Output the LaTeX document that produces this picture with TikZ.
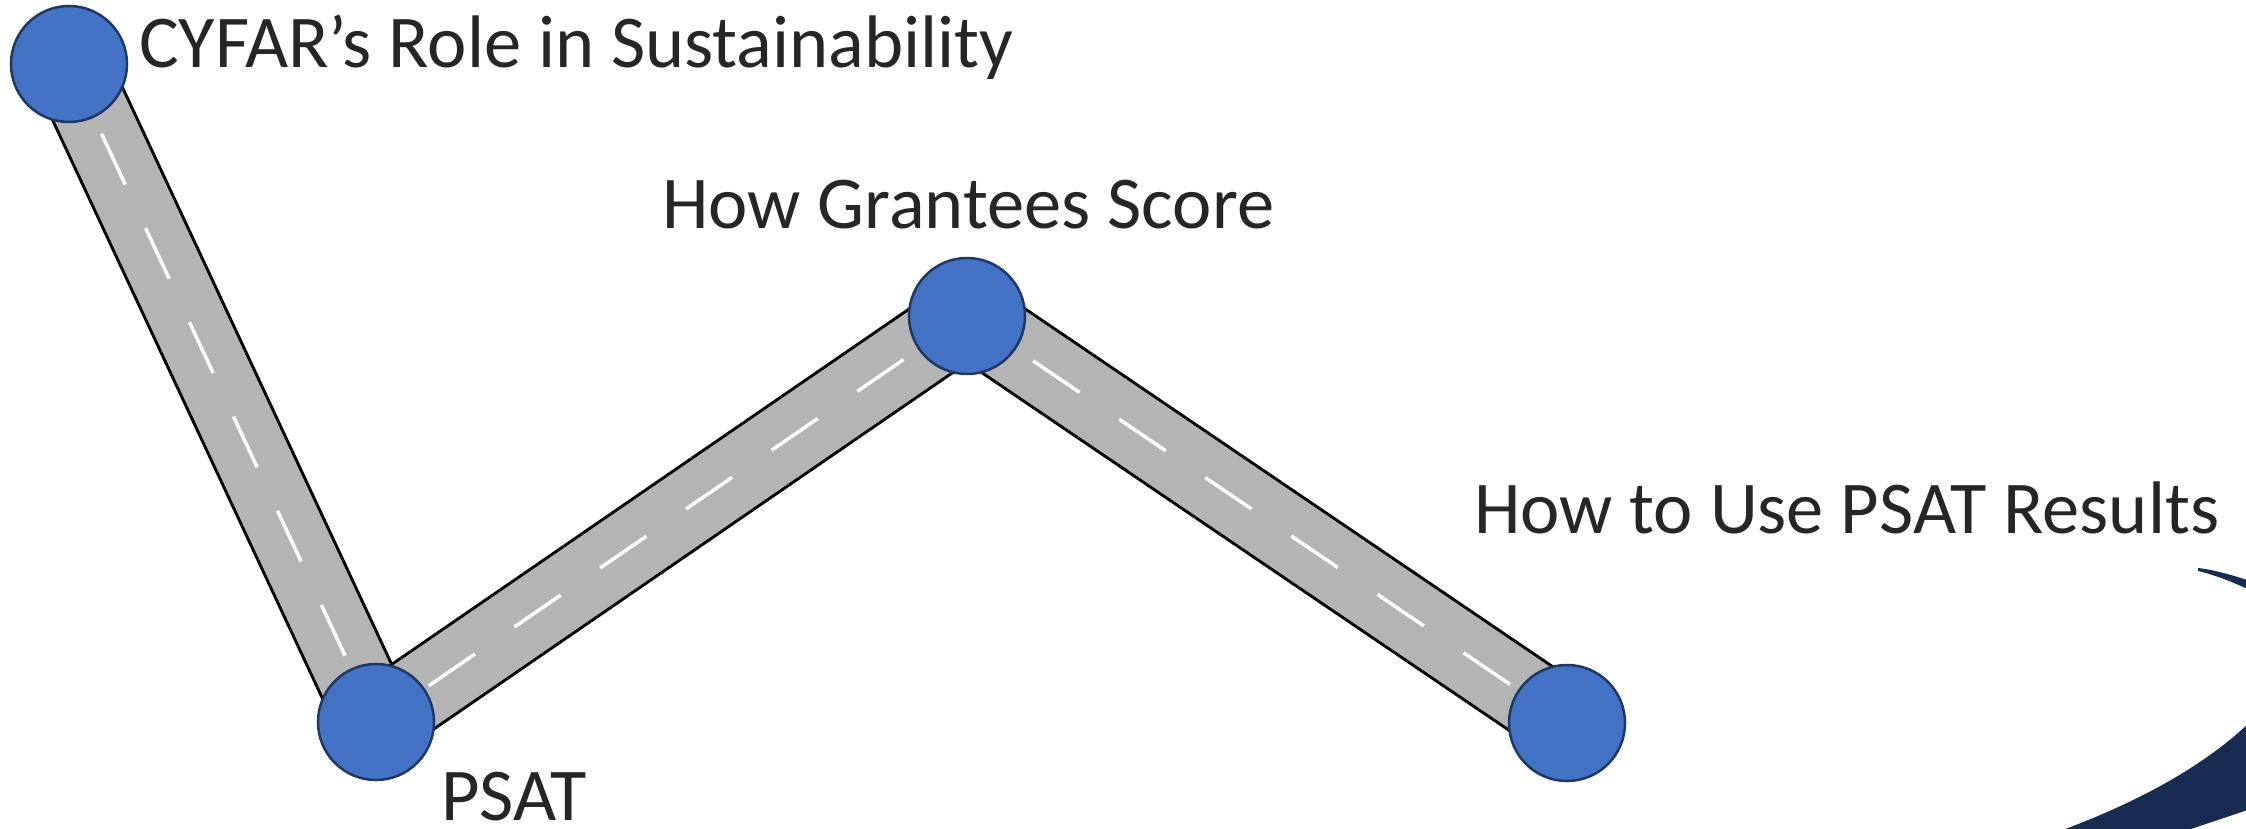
\documentclass[tikz,border=0pt]{standalone}
\usepackage{fontspec}
\setmainfont{Carlito}
\definecolor{nodeblue}{RGB}{68,114,196}
\definecolor{nodeedge}{RGB}{31,56,100}
\definecolor{roadgray}{RGB}{180,180,180}
\definecolor{txt}{RGB}{38,38,38}
\definecolor{navy}{RGB}{24,43,80}
\tikzset{
  stop/.style={circle, fill=nodeblue, draw=nodeedge, line width=2.5pt, minimum size=116pt, inner sep=0pt},
  lbl/.style={anchor=base west, inner sep=0pt, text=txt, font=\fontsize{74.5}{80}\selectfont},
  roadedge/.style={line width=80pt, draw=black},
  roadfill/.style={line width=74pt, draw=roadgray},
  lane/.style={line width=3.5pt, draw=white, dash pattern=on 56pt off 48pt},
}
\begin{document}
\begin{tikzpicture}[x=1pt,y=-1pt]
\useasboundingbox (0,0) rectangle (2246,829);
\coordinate (c1) at (69,64);
\coordinate (c2) at (376,722);
\coordinate (c3) at (967,316);
\coordinate (c4) at (1567,723);
% roads
\draw[roadedge] (c1) -- (c2);
\draw[roadfill] (c1) -- (c2);
\draw[lane, shorten <=77pt, shorten >=59pt] (c1) -- (c2);
\draw[roadedge] (c2) -- (c3);
\draw[roadfill] (c2) -- (c3);
\draw[lane, shorten <=64pt, shorten >=59pt] (c2) -- (c3);
\draw[roadedge] (c3) -- (c4);
\draw[roadfill] (c3) -- (c4);
\draw[lane, shorten <=80pt, shorten >=59pt] (c3) -- (c4);
% stops
\node[stop] (n1) at (c1) {};
\node[stop] (n2) at (c2) {};
\node[stop] (n3) at (c3) {};
\node[stop] (n4) at (c4) {};
% labels
\node[lbl] (t1) at (139,68) {CYFAR’s Role in Sustainability};
\node[lbl] (t2) at (441,820) {PSAT};
\node[lbl] (t3) at (662,229) {How Grantees Score};
\node[lbl] (t4) at (1474,533) {How to Use PSAT Results};
% swoosh
\begin{scope}
\clip (0,0) rectangle (2246,829);
\fill[navy] (2198,568) .. controls (2215,570) and (2232,575) .. (2250,581) -- (2250,590) .. controls (2230,581) and (2215,575) .. (2198,571) -- cycle;
\fill[navy] (2060,831) .. controls (2130,805) and (2200,770) .. (2250,722) -- (2250,809) .. controls (2225,818) and (2205,824) .. (2185,831) -- cycle;
\end{scope}
\end{tikzpicture}
\end{document}
